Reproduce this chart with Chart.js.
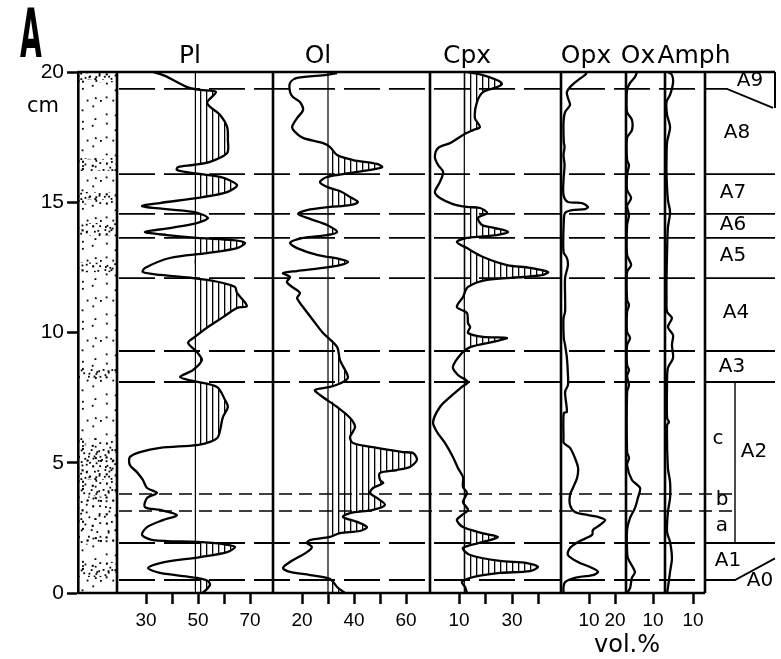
<!DOCTYPE html>
<html>
<head>
<meta charset="utf-8">
<script src="https://cdn.jsdelivr.net/npm/chart.js@4.4.1/dist/chart.umd.min.js"></script>
<style>
  html, body { margin: 0; padding: 0; background: #fff; }
  canvas { display: block; }
</style>
</head>
<body>
<canvas id="core" width="781" height="659"></canvas>
<script>
// ---- data: [depth cm, vol.%] ----
const minerals = ['Pl', 'Ol', 'Cpx', 'Opx', 'Ox', 'Amph'];

const pl = [[20.0,32.7],[19.85,37.3],[19.42,45.8],[19.31,50.8],[19.23,56.9],[18.81,53.5],[18.35,58.5],[17.89,61.2],[17.39,61.5],[16.89,61.2],[16.55,54.6],[16.43,48.1],[16.35,42.3],[16.24,41.9],[16.12,48.1],[15.97,58.5],[15.66,65.0],[15.39,61.2],[15.20,51.9],[14.97,35.4],[14.86,28.5],[14.78,32.7],[14.63,48.1],[14.40,53.8],[14.20,49.6],[14.01,39.2],[13.86,29.6],[13.74,38.1],[13.63,49.6],[13.55,63.5],[13.44,68.1],[13.24,65.0],[13.05,53.5],[12.86,39.2],[12.48,29.6],[12.32,28.8],[12.21,35.4],[12.09,48.1],[12.02,53.5],[11.90,59.6],[11.75,64.2],[11.52,65.0],[11.02,68.8],[10.94,65.0],[10.59,59.6],[10.21,53.8],[9.83,48.8],[9.60,46.2],[9.25,49.6],[8.94,51.5],[8.56,48.1],[8.29,43.1],[8.14,48.1],[7.91,57.3],[7.41,60.4],[7.14,61.5],[6.76,59.6],[5.99,57.7],[5.80,54.6],[5.68,49.6],[5.57,35.4],[5.41,27.7],[5.22,23.8],[4.91,23.8],[4.64,26.5],[4.34,28.8],[4.03,30.4],[3.84,34.2],[3.65,30.4],[3.30,29.6],[3.19,35.4],[2.99,41.9],[2.80,36.5],[2.53,30.4],[2.23,28.5],[2.03,32.7],[1.96,49.6],[1.88,59.6],[1.77,64.2],[1.57,61.2],[1.38,50.8],[1.15,35.4],[0.96,30.8],[0.77,35.4],[0.58,49.6],[0.46,53.8],[0.31,54.6],[0.08,52.7],[0,51.5]];

const ol = [[19.96,33.5],[19.89,29.6],[19.77,18.1],[19.58,15.4],[19.23,15.4],[19.04,16.5],[18.85,19.2],[18.54,20.4],[18.23,18.1],[17.89,16.2],[17.70,17.3],[17.47,20.4],[17.27,28.1],[17.12,30.8],[16.81,33.5],[16.62,39.6],[16.47,48.8],[16.35,50.8],[16.24,46.2],[16.08,35.8],[15.97,29.6],[15.78,26.9],[15.59,29.6],[15.43,34.6],[15.20,38.5],[15.01,41.5],[14.89,38.5],[14.82,30.8],[14.70,21.9],[14.55,18.5],[14.36,23.1],[14.13,29.6],[13.86,33.5],[13.74,29.6],[13.63,20.4],[13.44,15.4],[13.24,18.1],[12.98,25.8],[12.82,34.6],[12.71,37.7],[12.59,34.6],[12.48,28.1],[12.36,18.1],[12.28,12.7],[12.13,15.4],[11.94,14.2],[11.75,16.2],[11.52,19.2],[11.32,18.1],[10.98,20.4],[10.48,24.2],[9.98,28.1],[9.44,33.5],[8.94,34.6],[8.29,37.7],[8.10,35.8],[7.91,30.8],[7.79,25.0],[7.60,26.9],[7.14,33.5],[6.72,38.5],[6.37,40.4],[5.99,38.5],[5.76,39.6],[5.57,48.8],[5.41,58.8],[5.37,62.7],[5.11,64.2],[4.84,61.5],[4.72,56.5],[4.61,50.0],[4.34,50.0],[4.22,51.2],[4.03,47.3],[3.84,46.2],[3.65,48.8],[3.38,51.9],[3.19,47.3],[3.07,38.5],[2.92,35.8],[2.73,41.2],[2.53,45.0],[2.38,42.3],[2.30,34.6],[2.15,30.8],[2.03,23.1],[1.92,21.9],[1.77,23.8],[1.57,21.9],[1.19,15.4],[0.96,12.7],[0.81,15.4],[0.69,23.1],[0.54,30.8],[0.23,33.5],[0,36.5]];

const cpx = [[20.0,13.0],[19.89,18.7],[19.69,24.3],[19.54,26.2],[19.42,24.3],[19.23,19.1],[18.85,16.8],[18.23,16.0],[17.89,17.9],[17.77,15.3],[17.58,11.5],[17.27,6.6],[17.08,2.1],[16.74,0.9],[16.43,2.1],[16.16,4.0],[15.78,2.8],[15.39,0.9],[15.16,2.8],[14.93,7.7],[14.82,13.0],[14.78,17.9],[14.59,20.6],[14.40,17.2],[14.13,18.7],[14.01,23.6],[13.86,28.5],[13.74,24.3],[13.63,13.0],[13.47,9.2],[13.24,13.0],[12.90,19.1],[12.59,28.1],[12.48,36.8],[12.32,43.6],[12.21,41.7],[12.13,34.2],[12.02,20.6],[11.75,13.4],[11.36,11.5],[10.98,9.2],[10.75,13.0],[10.36,13.4],[10.21,14.2],[9.98,13.4],[9.83,19.1],[9.79,28.1],[9.64,22.8],[9.44,14.2],[9.21,11.1],[8.68,7.7],[8.37,9.6],[8.10,13.4],[7.91,11.1],[7.52,6.6],[7.14,2.8],[6.56,0.2],[6.18,1.7],[5.76,4.7],[5.22,7.7],[4.80,9.6],[4.45,11.5],[4.07,11.5],[3.84,13.0],[3.49,11.5],[3.19,13.4],[2.99,11.1],[2.80,9.2],[2.53,11.5],[2.30,18.7],[2.15,24.7],[1.96,19.1],[1.73,11.5],[1.46,14.2],[1.23,25.5],[1.15,35.7],[1.00,39.8],[0.84,36.8],[0.77,25.5],[0.61,15.3],[0.42,11.1],[0.23,12.3],[0,13.0]];

const opx = [[20.0,9.2],[19.89,8.5],[19.69,5.8],[19.42,2.7],[19.23,1.5],[19.0,1.9],[18.73,2.7],[18.46,0.8],[18.08,0.2],[17.31,0.3],[17.12,0.6],[16.81,0.2],[16.43,0.6],[15.85,0.2],[15.28,0.2],[15.01,1.9],[14.97,7.3],[14.82,9.6],[14.74,8.5],[14.70,3.5],[14.59,0.8],[14.24,0.3],[13.09,0.2],[12.86,1.5],[12.59,1.9],[12.09,0.8],[11.44,0.8],[10.79,0.8],[10.56,0.2],[9.79,0.3],[9.52,0.8],[9.02,1.5],[8.37,1.9],[7.98,1.9],[7.72,0.8],[6.95,1.5],[6.91,0.3],[5.95,0.2],[5.76,0.3],[5.57,2.7],[5.18,4.6],[4.80,5.8],[4.41,5.4],[4.03,3.8],[3.76,2.7],[3.38,2.7],[3.11,4.6],[2.99,9.6],[2.92,13.5],[2.80,16.2],[2.61,14.2],[2.42,11.5],[2.23,11.2],[1.96,5.8],[1.73,2.7],[1.46,1.9],[1.19,5.8],[0.96,11.2],[0.81,13.5],[0.69,11.5],[0.58,4.6],[0.42,0.8],[0.23,0.2],[0,0.2]];

const ox = [[20.0,4.1],[19.8,3.3],[19.58,1.5],[19.31,0.4],[18.93,0.2],[18.46,0.4],[18.16,2.2],[17.77,2.2],[17.47,0.4],[16.62,0.4],[16.43,1.1],[16.05,0.4],[15.47,0.4],[15.16,1.9],[14.86,0.4],[14.51,1.1],[14.13,0.4],[12.98,0.4],[12.59,1.9],[12.32,0.4],[11.25,0.4],[11.06,1.1],[10.79,0.4],[10.02,0.4],[9.79,1.5],[9.52,0.4],[8.75,0.4],[8.56,1.1],[8.33,0.4],[7.98,1.1],[7.72,0.4],[5.41,0.4],[5.18,1.1],[4.91,0.4],[4.34,2.2],[4.03,5.2],[3.65,4.4],[3.26,3.3],[2.88,1.5],[2.42,0.4],[1.65,0.4],[1.34,0.7],[0.81,3.3],[0.58,2.2],[0.19,1.5],[0,0.4]];

const amph = [[20.0,0.7],[19.89,2.2],[19.58,2.6],[19.12,1.5],[18.85,0.2],[18.35,0.4],[17.89,1.5],[17.31,0.4],[16.70,0.2],[16.05,0.2],[15.09,0.7],[14.63,1.5],[14.01,0.7],[13.09,0.4],[12.09,0.2],[11.32,0.2],[10.79,0.4],[10.56,2.2],[10.21,0.7],[9.90,2.6],[9.52,2.2],[9.02,2.6],[8.64,0.7],[8.10,0.4],[6.72,0.4],[6.56,1.1],[6.45,0.4],[4.80,0.7],[4.26,1.5],[3.65,1.5],[3.11,0.7],[2.34,0.4],[1.96,1.5],[1.34,2.2],[0.81,1.5],[0.19,0.7],[0,0.4]];

// reference (mean) lines
const plRef = 49, olRef = 30, cpxRef = 12;

// bottom tick values and their labels
const plTicks = [30, 40, 50, 60, 70],  plTickLabels = ['30', '', '50', '', '70'];
const olTicks = [20, 30, 40, 50, 60],  olTickLabels = ['20', '', '40', '', '60'];
const cpxTicks = [10, 20, 30, 40],     cpxTickLabels = ['10', '', '30', ''];
const opxTicks = [10, 20],             opxTickLabels = ['10', '20'];
const oxTicks = [10],                  oxTickLabels = ['10'];
const amphTicks = [10],                amphTickLabels = ['10'];

// unit boundaries (cm) and unit names
const unitBounds = [19.35, 16.08, 14.55, 13.63, 12.09, 9.29, 8.10, 1.92, 0.50];
const subBounds = [3.80, 3.15];
const unitNames = ['A9', 'A8', 'A7', 'A6', 'A5', 'A4', 'A3', 'c', 'A2', 'b', 'a', 'A1', 'A0'];
const unitNameDepths = [19.65, 17.66, 15.36, 14.13, 12.94, 10.75, 8.68, 5.91, 5.41, 3.57, 2.57, 1.23, 0.46];

// coarse (dense dotted) layers in the section column
const coarseBands = [[20.0, 19.6], [16.7, 16.2], [15.4, 14.9], [14.2, 13.7], [12.7, 12.3], [8.6, 8.25], [5.7, 3.7], [1.2, 0.6]];
const mediumBands = [[5.95, 5.7], [3.7, 1.85]];

// ---- layout (figure px) ----
const PLOT_LEFT = 78, PLOT_RIGHT = 775;
const panelBorders = [117, 273, 430, 561, 626, 665, 705];
const UNIT_LEFT = 705, UNIT_RIGHT = 775, A2_SPLIT = 735;
const panelScale = {
  xPl:   { px0: 198, v0: 50, k: 2.6 },
  xOl:   { px0: 302, v0: 20, k: 2.6 },
  xCpx:  { px0: 459, v0: 10, k: 2.65 },
  xOpx:  { px0: 563, v0: 0,  k: 2.6 },
  xOx:   { px0: 626, v0: 0,  k: 2.7 },
  xAmph: { px0: 666, v0: 0,  k: 2.7 }
};
const titleX = [190, 318, 467, 586, 638, 694];
const unitNameX = [750, 737, 733, 733, 733, 736, 732, 718, 754, 722, 722, 728, 760];
const FONT = '"DejaVu Sans", sans-serif';
const TICK_FONT = '"Liberation Sans", Arial, sans-serif';

// patterns
function makePattern(w, h, draw) {
  const c = document.createElement('canvas');
  c.width = w; c.height = h;
  draw(c.getContext('2d'));
  return c.getContext('2d').createPattern(c, 'repeat');
}
const hatchPattern = makePattern(6, 6, g => { g.fillStyle = '#000'; g.fillRect(2, 0, 1.3, 6); });
const frac = v => v - Math.floor(v);
function dots(n, size) {
  // low-discrepancy scatter, so the texture has no visible rows
  return makePattern(size, size, g => {
    g.fillStyle = '#000';
    for (let i = 0; i < n; i++) {
      const x = frac(0.5 + i * 0.7548776662 + 0.13 * frac(i * i * 0.31)) * size;
      const y = frac(0.5 + i * 0.5698402910 + 0.11 * frac(i * i * 0.47)) * size;
      g.fillRect(x, y, 1.8, 1.8);
    }
  });
}
const sparseDots = dots(16, 40), mediumDots = dots(45, 40), denseDots = dots(85, 40);

// ---- datasets ----
const toXY = pts => pts.map(([d, v]) => ({ x: v, y: d }));
const curve = (pts, axis) => ({
  data: toXY(pts), xAxisID: axis, borderColor: '#000', borderWidth: 2.3,
  pointRadius: 0, tension: 0.3, fill: false, order: 1
});
const hatch = (pts, axis, ref) => ({
  data: pts.map(([d, v]) => ({ x: Math.max(v, ref), y: d })), xAxisID: axis,
  borderColor: 'rgba(0,0,0,0)', borderWidth: 0, backgroundColor: hatchPattern,
  pointRadius: 0, tension: 0.3, fill: { value: ref }, order: 4
});
const refLine = (axis, ref) => ({
  data: [{ x: ref, y: 20 }, { x: ref, y: 0 }], xAxisID: axis,
  borderColor: '#000', borderWidth: 1.2, pointRadius: 0, fill: false, order: 3
});
const seg = (pts, width, dash, order) => ({
  data: pts.map(([x, d]) => ({ x, y: d })), xAxisID: 'xFig',
  borderColor: '#000', borderWidth: width, borderDash: dash || [],
  pointRadius: 0, fill: false, clip: false, order: order
});
const band = ([top, bottom], pattern) => ({
  data: [{ x: panelBorders[0], y: top }, { x: panelBorders[0], y: bottom }], xAxisID: 'xFig',
  borderColor: 'rgba(0,0,0,0)', borderWidth: 0, backgroundColor: pattern,
  pointRadius: 0, fill: { value: PLOT_LEFT }, order: 5
});

const datasets = [];
datasets.push(band([20, 0], sparseDots));
mediumBands.forEach(b => datasets.push(band(b, mediumDots)));
coarseBands.forEach(b => datasets.push(band(b, denseDots)));
datasets.push(hatch(pl, 'xPl', plRef), hatch(ol, 'xOl', olRef), hatch(cpx, 'xCpx', cpxRef));
datasets.push(refLine('xPl', plRef), refLine('xOl', olRef), refLine('xCpx', cpxRef));
datasets.push(curve(pl, 'xPl'), curve(ol, 'xOl'), curve(cpx, 'xCpx'),
              curve(opx, 'xOpx'), curve(ox, 'xOx'), curve(amph, 'xAmph'));
// unit boundaries: dashed across the mineral panels, solid in the unit column
unitBounds.forEach(d => datasets.push(seg([[panelBorders[0] + 2, d], [UNIT_LEFT, d]], 1.8, [36, 9], 2)));
subBounds.forEach(d => datasets.push(seg([[panelBorders[0] + 2, d], [A2_SPLIT, d]], 1.6, [13, 7], 2)));
unitBounds.slice(1, 8).forEach(d => datasets.push(seg([[UNIT_LEFT, d], [UNIT_RIGHT, d]], 1.8, null, 2)));
datasets.push(seg([[UNIT_LEFT, 19.35], [727, 19.35], [773, 18.62]], 1.8, null, 2));
datasets.push(seg([[UNIT_LEFT, 0.50], [A2_SPLIT, 0.50], [UNIT_RIGHT, 1.33]], 1.8, null, 2));
datasets.push(seg([[A2_SPLIT, 8.10], [A2_SPLIT, 1.92]], 1.4, null, 2));
// frame
datasets.push(seg([[PLOT_LEFT, 20], [UNIT_RIGHT, 20]], 2.6, null, 0));
datasets.push(seg([[PLOT_LEFT, 0], [UNIT_LEFT, 0]], 2.6, null, 0));
datasets.push(seg([[UNIT_RIGHT, 20], [UNIT_RIGHT, 18.62]], 2.0, null, 0));
panelBorders.forEach(x => datasets.push(seg([[x, 20], [x, 0]], 2.6, null, 0)));

// ---- scales ----
function panelAxis(id, ticks, labels) {
  const p = panelScale[id];
  return {
    type: 'linear', axis: 'x', position: { y: 0 },
    min: p.v0 + (PLOT_LEFT - p.px0) / p.k,
    max: p.v0 + (PLOT_RIGHT - p.px0) / p.k,
    afterBuildTicks: s => { s.ticks = ticks.map(v => ({ value: v })); },
    ticks: {
      autoSkip: false, maxRotation: 0, color: '#000', padding: 5,
      font: { family: TICK_FONT, size: 19 },
      callback: (v, i) => labels[i]
    },
    grid: { drawOnChartArea: false, tickLength: 11, tickWidth: 2.5, tickColor: '#000' },
    border: { display: false }
  };
}

const textPlugin = {
  id: 'figureText',
  afterDraw(chart) {
    const g = chart.ctx, xs = chart.scales.xFig, ys = chart.scales.y;
    g.save();
    g.fillStyle = '#000';
    // panel letter
    g.save();
    g.translate(31, 57);
    g.scale(0.42, 1);
    g.font = 'bold 67px ' + FONT;
    g.textAlign = 'center';
    g.textBaseline = 'alphabetic';
    g.fillText('A', 0, 0);
    g.restore();
    // mineral titles
    g.font = '25px ' + FONT;
    g.textAlign = 'center';
    g.textBaseline = 'alphabetic';
    minerals.forEach((m, i) => g.fillText(m, titleX[i], 63));
    // axis texts
    g.font = '21px ' + FONT;
    g.fillText('cm', 43, 112);
    g.font = '24px ' + FONT;
    g.fillText('vol.%', 627, 652);
    // unit names
    g.font = '20px ' + FONT;
    g.textBaseline = 'middle';
    unitNames.forEach((n, i) => g.fillText(n, xs.getPixelForValue(unitNameX[i]), ys.getPixelForValue(unitNameDepths[i])));
    g.restore();
  }
};

new Chart(document.getElementById('core'), {
  type: 'line',
  data: { datasets },
  options: {
    indexAxis: 'y',
    responsive: false,
    animation: false,
    devicePixelRatio: 1,
    layout: { padding: { left: 0, right: 781 - PLOT_RIGHT, top: 72, bottom: 66 } },
    plugins: { legend: { display: false }, tooltip: { enabled: false } },
    scales: {
      y: {
        type: 'linear', position: 'left', min: 0, max: 20,
        afterFit: s => { s.width = PLOT_LEFT; },
        ticks: { stepSize: 5, color: '#000', padding: 3, font: { family: TICK_FONT, size: 21 } },
        grid: { drawOnChartArea: false, tickLength: 11, tickWidth: 2.5, tickColor: '#000' },
        border: { display: true, color: '#000', width: 2.6 }
      },
      xFig: { type: 'linear', axis: 'x', display: false, min: PLOT_LEFT, max: PLOT_RIGHT },
      xPl: panelAxis('xPl', plTicks, plTickLabels),
      xOl: panelAxis('xOl', olTicks, olTickLabels),
      xCpx: panelAxis('xCpx', cpxTicks, cpxTickLabels),
      xOpx: panelAxis('xOpx', opxTicks, opxTickLabels),
      xOx: panelAxis('xOx', oxTicks, oxTickLabels),
      xAmph: panelAxis('xAmph', amphTicks, amphTickLabels)
    }
  },
  plugins: [textPlugin]
});
</script>
</body>
</html>
